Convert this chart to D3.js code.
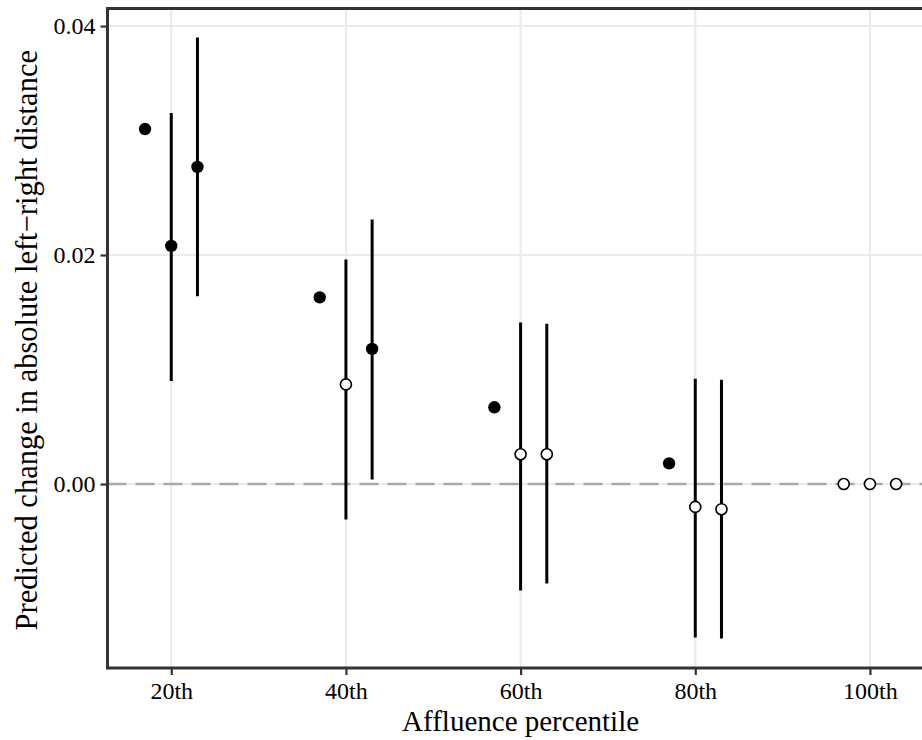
<!DOCTYPE html>
<html>
<head>
<meta charset="utf-8">
<script src="https://cdn.jsdelivr.net/npm/d3@7"></script>
<style>
  body { margin: 0; background: #fff; }
</style>
</head>
<body>
<div id="chart"></div>
<script>
// percentile position of each estimate (groups dodged by 3 around the tick)
var xpos = [17, 20, 23, 37, 40, 43, 57, 60, 63, 77, 80, 83, 97, 100, 103];
var estimate = [0.0310, 0.0208, 0.0277, 0.0163, 0.0087, 0.0118, 0.0067, 0.0026, 0.0026, 0.0018, -0.0020, -0.0022, 0, 0, 0];
var lower = [null, 0.0090, 0.0164, null, -0.0031, 0.0004, null, -0.0093, -0.0087, null, -0.0134, -0.0135, null, null, null];
var upper = [null, 0.0324, 0.0390, null, 0.0196, 0.0231, null, 0.0141, 0.0140, null, 0.0092, 0.0091, null, null, null];
var filled = [true, true, true, true, false, true, true, false, false, true, false, false, false, false, false];

var xTicks = [20, 40, 60, 80, 100];
var xTickLabels = ["20th", "40th", "60th", "80th", "100th"];
var yTicks = [0, 0.02, 0.04];
var yTickLabels = ["0.00", "0.02", "0.04"];

var width = 922, height = 740;
var pLeft = 107.5, pTop = 8.5, pRight = 933.7, pBottom = 668;
var serif = '"Liberation Serif", "DejaVu Serif", serif';

var svg = d3.select("#chart").append("svg")
    .attr("width", width)
    .attr("height", height);

var x = d3.scaleLinear().domain([12.7, 107.3]).range([pLeft, pRight]);
var y = d3.scaleLinear().domain([-0.01607, 0.04153]).range([pBottom, pTop]);

var data = xpos.map(function(d, i) {
  return {x: d, est: estimate[i], lo: lower[i], hi: upper[i], filled: filled[i]};
});

// grid
var grid = svg.append("g");
grid.selectAll(".vgrid").data(xTicks).enter().append("line")
    .attr("x1", d => x(d)).attr("x2", d => x(d))
    .attr("y1", pTop).attr("y2", pBottom)
    .attr("stroke", "#ebebeb").attr("stroke-width", 2.2);
grid.selectAll(".hgrid").data(yTicks).enter().append("line")
    .attr("x1", pLeft).attr("x2", pRight)
    .attr("y1", d => y(d)).attr("y2", d => y(d))
    .attr("stroke", "#ebebeb").attr("stroke-width", 2.2);

// zero reference line
svg.append("line")
    .attr("x1", pLeft).attr("x2", pRight)
    .attr("y1", y(0)).attr("y2", y(0))
    .attr("stroke", "#a9a9a9").attr("stroke-width", 2.4)
    .attr("stroke-dasharray", "19,9");

// error bars
svg.append("g").selectAll("line")
    .data(data.filter(d => d.lo !== null))
    .enter().append("line")
    .attr("x1", d => x(d.x)).attr("x2", d => x(d.x))
    .attr("y1", d => y(d.lo)).attr("y2", d => y(d.hi))
    .attr("stroke", "#000").attr("stroke-width", 3);

// points
svg.append("g").selectAll("circle")
    .data(data)
    .enter().append("circle")
    .attr("cx", d => x(d.x))
    .attr("cy", d => y(d.est))
    .attr("r", d => d.filled ? 6.2 : 5.5)
    .attr("fill", d => d.filled ? "#000" : "#fff")
    .attr("stroke", "#000")
    .attr("stroke-width", d => d.filled ? 0 : 1.6);

// axes
var xAxis = d3.axisBottom(x).tickValues(xTicks)
    .tickFormat((d, i) => xTickLabels[i]).tickSize(7).tickPadding(5);
var gx = svg.append("g").attr("transform", "translate(0," + pBottom + ")").call(xAxis);
gx.select(".domain").remove();
gx.selectAll(".tick line").attr("stroke", "#333").attr("stroke-width", 2.2);
gx.selectAll(".tick text")
    .style("font-family", serif).style("font-size", "24px")
    .attr("fill", "#000").attr("dy", "0.8em");

var yAxis = d3.axisLeft(y).tickValues(yTicks)
    .tickFormat((d, i) => yTickLabels[i]).tickSize(7).tickPadding(5);
var gy = svg.append("g").attr("transform", "translate(" + pLeft + ",0)").call(yAxis);
gy.select(".domain").remove();
gy.selectAll(".tick line").attr("stroke", "#333").attr("stroke-width", 2.2);
gy.selectAll(".tick text")
    .style("font-family", serif).style("font-size", "24px")
    .attr("fill", "#000");

// panel border
svg.append("rect")
    .attr("x", pLeft).attr("y", pTop)
    .attr("width", pRight - pLeft).attr("height", pBottom - pTop)
    .attr("fill", "none").attr("stroke", "#333").attr("stroke-width", 3);

// axis titles
svg.append("text")
    .attr("x", (pLeft + pRight) / 2).attr("y", 731)
    .attr("text-anchor", "middle")
    .style("font-family", serif).style("font-size", "29px")
    .text("Affluence percentile");

svg.append("text")
    .attr("transform", "translate(37," + (((pTop + pBottom) / 2) + 2) + ") rotate(-90)")
    .attr("text-anchor", "middle")
    .style("font-family", serif).style("font-size", "30.5px")
    .text("Predicted change in absolute left\u2212right distance");
</script>
</body>
</html>
